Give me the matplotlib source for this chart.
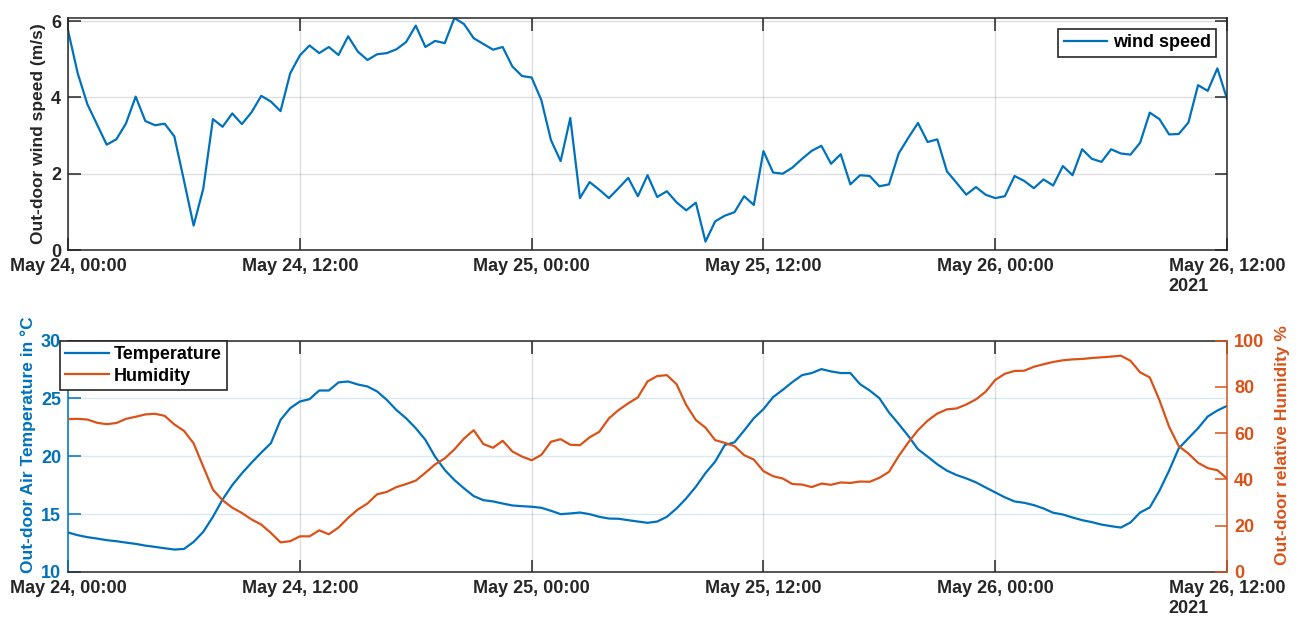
import matplotlib.pyplot as plt
import numpy as np
import pandas as pd

plt.rcParams['font.family'] = ['Liberation Sans', 'DejaVu Sans']
plt.rcParams['font.weight'] = 'bold'
plt.rcParams['axes.labelweight'] = 'bold'

# half-hourly samples, May 24 00:00 -> May 26 12:00
time = pd.date_range('2021-05-24 00:00', '2021-05-26 12:00', freq='30min')

wind_speed = [
    5.75, 4.63, 3.82, 3.29, 2.76, 2.90, 3.32, 4.02, 3.38, 3.27, 3.31, 2.98,
    1.82, 0.64, 1.61, 3.43, 3.23, 3.58, 3.30, 3.61, 4.04, 3.89, 3.64, 4.63,
    5.10, 5.36, 5.16, 5.32, 5.11, 5.60, 5.20, 4.98, 5.13, 5.16,
    5.26, 5.45, 5.88, 5.32, 5.48, 5.42, 6.08, 5.92, 5.55, 5.40, 5.25, 5.32,
    4.81, 4.56, 4.52, 3.93, 2.88, 2.33, 3.46, 1.36, 1.78, 1.58, 1.36, 1.62,
    1.89, 1.41, 1.96, 1.39, 1.54, 1.25, 1.04, 1.24, 0.22,
    0.75, 0.90, 0.99, 1.41, 1.18, 2.59, 2.03, 2.00, 2.16, 2.39, 2.60, 2.73,
    2.26, 2.51, 1.72, 1.96, 1.94, 1.67, 1.72, 2.53, 2.94, 3.33, 2.83, 2.90,
    2.06, 1.76, 1.45, 1.65, 1.45, 1.36, 1.41, 1.94, 1.81,
    1.62, 1.85, 1.69, 2.20, 1.96, 2.64, 2.39, 2.31, 2.64, 2.53, 2.50, 2.81,
    3.60, 3.43, 3.03, 3.04, 3.34, 4.32, 4.17, 4.76, 3.96,
]

temperature = [
    13.41, 13.18, 13.01, 12.89, 12.75, 12.66, 12.54, 12.43, 12.28, 12.17,
    12.05, 11.94, 11.99, 12.60, 13.47, 14.77, 16.27, 17.51, 18.53, 19.45,
    20.32, 21.13, 23.15, 24.16, 24.74, 24.94, 25.69, 25.69, 26.39, 26.47,
    26.21, 26.04, 25.61, 24.88,
    24.00, 23.29, 22.43, 21.42, 19.97, 18.82, 17.95, 17.23, 16.56, 16.21,
    16.10, 15.92, 15.75, 15.69, 15.64, 15.55, 15.29, 15.00, 15.06, 15.14,
    15.00, 14.77, 14.62, 14.60, 14.48, 14.36, 14.25, 14.36, 14.77, 15.49,
    16.36, 17.37, 18.55,
    19.54, 20.98, 21.21, 22.23, 23.29, 24.08, 25.12, 25.75, 26.42, 27.02,
    27.20, 27.54, 27.34, 27.20, 27.20, 26.24, 25.69, 25.03, 23.79, 22.80,
    21.76, 20.61, 19.97, 19.31, 18.76, 18.38, 18.09, 17.75, 17.31, 16.88,
    16.45, 16.10, 15.98,
    15.78, 15.49, 15.12, 14.97, 14.71, 14.48, 14.31, 14.10, 13.96, 13.84,
    14.28, 15.14, 15.58, 17.02, 18.76, 20.69, 21.56, 22.43, 23.44, 23.96,
    24.36,
]

humidity = [
    66.1, 66.2, 65.9, 64.5, 63.9, 64.4, 66.2, 67.1, 68.1, 68.4, 67.5, 63.8,
    61.0, 55.6, 45.5, 35.6, 31.0, 27.8, 25.5, 22.7, 20.5, 16.9, 12.8, 13.3,
    15.4, 15.4, 18.0, 16.3, 19.2, 23.4, 27.0, 29.6, 33.6, 34.6,
    36.7, 38.0, 39.5, 42.9, 46.5, 49.1, 53.0, 57.7, 61.3, 55.3, 53.7, 56.7,
    52.1, 49.9, 48.3, 50.6, 56.3, 57.4, 55.0, 54.8, 58.2, 60.6, 66.4, 70.0,
    72.9, 75.5, 82.4, 84.7, 85.1, 81.2, 72.2, 65.7, 62.4,
    57.0, 55.8, 54.4, 50.5, 48.6, 43.6, 41.4, 40.4, 38.0, 37.8, 36.7, 38.2,
    37.7, 38.7, 38.5, 39.1, 39.0, 40.7, 43.3, 50.1, 56.0, 61.3, 65.4, 68.5,
    70.3, 70.7, 72.4, 74.6, 77.9, 83.0, 85.7, 86.9, 87.0,
    88.7, 89.8, 90.8, 91.5, 91.9, 92.1, 92.5, 92.8, 93.1, 93.5, 91.3, 86.3,
    84.1, 74.3, 62.8, 54.4, 51.2, 47.2, 44.9, 44.0, 40.4,
]

tick_times = pd.date_range('2021-05-24 00:00', periods=6, freq='12h')
tick_labels = ['May 24, 00:00', 'May 24, 12:00', 'May 25, 00:00',
               'May 25, 12:00', 'May 26, 00:00', 'May 26, 12:00\n2021']

blue = '#0072BD'
orange = '#D95319'
dark = '#262626'
fs = 13

fig = plt.figure(figsize=(12.99, 6.23), dpi=100)
ax_w = fig.add_axes([0.0524, 0.5987, 0.8922, 0.3724])
ax_t = fig.add_axes([0.0524, 0.0819, 0.8922, 0.3713])
ax_h = ax_t.twinx()


def style_xaxis(ax):
    ax.set_xlim(time[0], time[-1])
    ax.set_xticks(tick_times)
    labels = ax.set_xticklabels(tick_labels, fontsize=fs, color=dark)
    labels[-1].set_multialignment('left')
    ax.tick_params(axis='x', direction='in', length=9, width=1.1,
                   top=True, color=dark, pad=6)


# wind speed
ax_w.plot(time, wind_speed, color=blue, lw=1.6, label='wind speed')
style_xaxis(ax_w)
ax_w.set_ylim(0, max(wind_speed))
ax_w.set_yticks([0, 2, 4, 6])
ax_w.tick_params(axis='y', direction='in', length=9, width=1.1, right=True,
                 color=dark, labelcolor=dark, labelsize=fs, pad=5)
ax_w.grid(True, color=dark, alpha=0.15, lw=1.0)
for s in ax_w.spines.values():
    s.set_color(dark)
    s.set_linewidth(1.1)
ax_w.set_ylabel('Out-door wind speed (m/s)', fontsize=12.5, color=dark)
ax_w.yaxis.set_label_coords(-0.019, 0.5)
leg = ax_w.legend(loc='upper right', bbox_to_anchor=(0.9905, 0.9526),
                  borderaxespad=0, fancybox=False, framealpha=1,
                  edgecolor=dark, fontsize=fs, handlelength=2.4,
                  borderpad=0.3, handletextpad=0.3)
leg.get_frame().set_linewidth(1.2)

# temperature and humidity
l1, = ax_t.plot(time, temperature, color=blue, lw=1.6, label='Temperature')
l2, = ax_h.plot(time, humidity, color=orange, lw=1.6, label='Humidity')
style_xaxis(ax_t)
ax_t.set_ylim(10, 30)
ax_t.set_yticks([10, 15, 20, 25, 30])
ax_t.tick_params(axis='y', direction='in', length=9, width=1.1,
                 color=blue, labelcolor=blue, labelsize=fs, pad=5)
ax_t.grid(True, axis='x', color=dark, alpha=0.15, lw=1.0)
ax_t.grid(True, axis='y', color=blue, alpha=0.15, lw=1.0)
ax_h.set_ylim(0, 100)
ax_h.set_yticks([0, 20, 40, 60, 80, 100])
ax_h.tick_params(axis='y', direction='in', length=9, width=1.1,
                 color=orange, labelcolor=orange, labelsize=fs, pad=5)
for s in ('top', 'bottom'):
    ax_t.spines[s].set_color(dark)
    ax_t.spines[s].set_linewidth(1.1)
    ax_h.spines[s].set_visible(False)
ax_t.spines['left'].set_color(blue)
ax_t.spines['left'].set_linewidth(1.1)
ax_t.spines['right'].set_visible(False)
ax_h.spines['left'].set_visible(False)
ax_h.spines['right'].set_color(orange)
ax_h.spines['right'].set_linewidth(1.1)

ax_t.set_ylabel('Out-door Air Temperature in °C', fontsize=12.5, color=blue)
ax_t.yaxis.set_label_coords(-0.0276, 0.55)
ax_h.set_ylabel('Out-door relative Humidity %', fontsize=12.5, color=orange)
ax_h.yaxis.set_label_coords(1.0414, 0.55)

leg2 = ax_h.legend(handles=[l1, l2], loc='upper left',
                   bbox_to_anchor=(-0.007, 1.0), borderaxespad=0,
                   fancybox=False, framealpha=1, edgecolor=dark, fontsize=fs,
                   handlelength=2.4, borderpad=0.3, handletextpad=0.3,
                   labelspacing=0.25)
leg2.get_frame().set_linewidth(1.2)

fig.savefig('out.png', dpi=100)
